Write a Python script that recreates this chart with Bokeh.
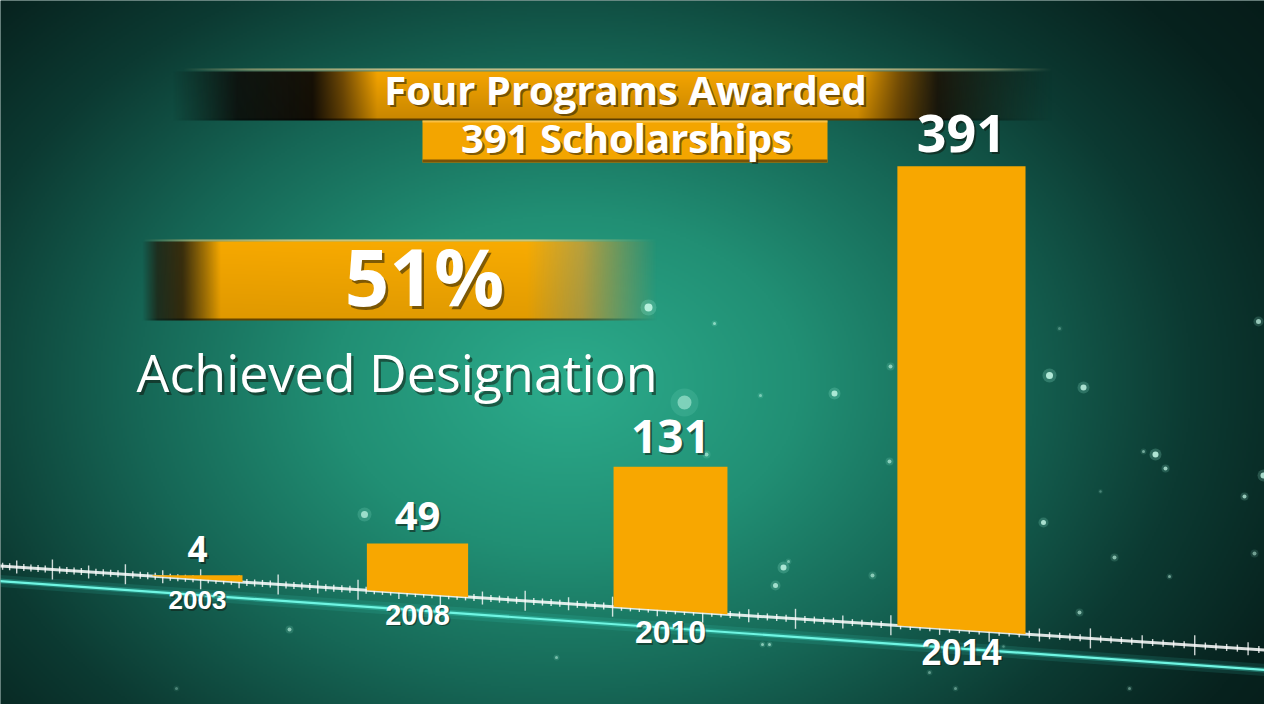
import numpy as np
from bokeh.plotting import figure
from bokeh.models import Range1d, ColumnDataSource
from bokeh.core.properties import value, field
from bokeh.embed import file_html
from bokeh.resources import INLINE

# ---------------- data ----------------
years = ["2003", "2008", "2010", "2014"]
scholarships = [4, 49, 131, 391]
headline = "Four Programs Awarded"
subline = "391 Scholarships"
designation_share = "51%"
designation_text = "Achieved Designation"

# decorative sparkles (x, y, radius, alpha) in picture pixels
sparkles = [
    (656, 315, 4, 0.85), (722, 331, 1.5, 0.6), (692, 410, 7, 0.5), (768, 403, 1.5, 0.5),
    (842, 401, 3, 0.8), (898, 374, 2, 0.6), (897, 469, 2, 0.6), (714, 462, 2, 0.6),
    (372, 522, 3.5, 0.7), (1266, 329, 2.5, 0.7), (1057, 383, 3.5, 0.85), (1091, 395, 3, 0.8),
    (1163, 462, 3, 0.85), (1151, 459, 1.5, 0.5), (1173, 476, 2, 0.7), (1271, 483, 3, 0.8),
    (1252, 504, 2, 0.7), (1051, 530, 2.5, 0.8), (1122, 565, 2, 0.6), (1262, 561, 2, 0.5),
    (1177, 584, 1.5, 0.5), (1067, 336, 1.5, 0.3), (1108, 499, 1.2, 0.3), (791, 575, 3, 0.8),
    (796, 569, 1.5, 0.5), (783, 593, 2.5, 0.75), (880, 583, 2, 0.6), (770, 652, 1.5, 0.6),
    (777, 652, 1.5, 0.6), (297, 637, 2, 0.6), (564, 665, 1.5, 0.5), (184, 696, 1.5, 0.3),
    (937, 680, 1.5, 0.4), (963, 696, 1.5, 0.4), (1137, 696, 1.5, 0.4), (1087, 620, 2, 0.6),
    (1011, 654, 1.2, 0.3),
]

W, H, M = 1264, 704, 8


def Y(ry):
    return 720 - ry


p = figure(width=W, height=H, x_range=Range1d(M, 1280 - M), y_range=Range1d(M, 720 - M),
           output_backend="svg", toolbar_location=None, min_border=0,
           x_axis_location=None, y_axis_location=None)
p.grid.visible = False
p.outline_line_color = None
p.background_fill_color = "#0b3a33"
p.border_fill_color = "#0b3a33"


def pack(rgba):
    ny, nx, _ = rgba.shape
    img = np.empty((ny, nx), dtype=np.uint32)
    v = img.view(dtype=np.uint8).reshape((ny, nx, 4))
    v[:] = np.clip(rgba, 0, 255).astype(np.uint8)
    return np.ascontiguousarray(np.flipud(img))


# ---------------- background radial gradient ----------------
nx, ny = 632, 352
gx = M + (np.arange(nx) + 0.5) * 2
gy = M + (np.arange(ny) + 0.5) * 2
GX, GY = np.meshgrid(gx, gy)
t = np.sqrt(((GX - 575) / 780.0) ** 2 + ((GY - 390) / 560.0) ** 2)
ts = [0.0, 0.3, 0.55, 0.8, 1.0, 1.3]
rs = [44, 33, 22, 12, 7, 4]
gs = [172, 143, 103, 58, 34, 20]
bs = [140, 116, 86, 50, 30, 18]
bg = np.zeros((ny, nx, 4))
bg[..., 0] = np.interp(t, ts, rs)
bg[..., 1] = np.interp(t, ts, gs)
bg[..., 2] = np.interp(t, ts, bs)
bg[..., 3] = 255
p.image_rgba(image=[pack(bg)], x=M, y=M, dw=W, dh=H)


# ---------------- banners ----------------
def banner(x0, x1, y0, y1, stops, hl_stops, hl_col, top_rows=2, shade=(1.04, 0.84), bottom_dark=2):
    w, h = x1 - x0, y1 - y0
    xs = x0 + np.arange(w) + 0.5
    sx = [s[0] for s in stops]
    cols = [np.interp(xs, sx, [s[k] for s in stops]) for k in range(1, 5)]
    arr = np.zeros((h, w, 4))
    fac = np.linspace(shade[0], shade[1], h)[:, None]
    for k in range(3):
        arr[..., k] = cols[k][None, :] * fac
    arr[..., 3] = cols[3][None, :] * 255
    hx = [s[0] for s in hl_stops]
    ha = np.interp(xs, hx, [s[1] for s in hl_stops])
    for r in range(top_rows):
        for k in range(3):
            arr[r, :, k] = hl_col[k]
        arr[r, :, 3] = ha * 255 * (1.0 - 0.3 * r)
    for r in range(1, bottom_dark + 1):
        arr[h - r, :, :3] *= 0.45
    p.image_rgba(image=[pack(arr)], x=x0, y=Y(y1), dw=w, dh=h)


banner(180, 1060, 76, 128,
       [(180, 12, 10, 8, 0.0), (245, 14, 11, 8, 0.85), (320, 22, 16, 6, 1.0), (350, 110, 72, 5, 1.0),
        (385, 238, 160, 0, 1.0), (865, 238, 160, 0, 1.0), (905, 120, 80, 5, 1.0), (945, 28, 20, 8, 0.92),
        (1060, 20, 18, 10, 0.0)],
       [(190, 0.0), (260, 0.55), (400, 0.9), (860, 0.9), (1000, 0.5), (1060, 0.0)],
       (245, 215, 150), top_rows=3)

banner(150, 665, 247, 328,
       [(150, 30, 20, 8, 0.0), (165, 35, 24, 8, 0.7), (190, 60, 40, 6, 0.92), (228, 240, 164, 0, 1.0),
        (535, 242, 167, 2, 1.0), (590, 228, 160, 40, 0.75), (665, 200, 150, 70, 0.0)],
       [(150, 0.0), (200, 0.6), (300, 0.9), (540, 0.9), (665, 0.0)],
       (255, 215, 130), top_rows=2, shade=(1.03, 0.93))

# "391 Scholarships" box
p.quad(left=430, right=835, top=Y(128), bottom=Y(170), fill_color="#f3a500", line_color=None)
p.quad(left=430, right=835, top=Y(167), bottom=Y(170), fill_color="#7a5206", line_color=None)
p.quad(left=430, right=835, top=Y(128), bottom=Y(130), fill_color="#ffd070", line_color=None, fill_alpha=0.6)


# ---------------- perspective axis ----------------
def base_y(x):
    return 573 + 0.0664 * x


def teal_y(x):
    return 588 + 0.0703 * x


lx = np.array([0.0, 1280.0])
p.line(lx, Y(teal_y(lx)), line_color="#40e0cc", line_width=12, line_alpha=0.12)
p.line(lx, Y(teal_y(lx)), line_color="#40e0cc", line_width=5, line_alpha=0.3)
p.line(lx, Y(teal_y(lx)), line_color="#6ff5e2", line_width=2.2)

# ticks
tick_x, tick_h = [], []
for direction in (1, -1):
    x, k = 803.0, 0
    while -10 < x < 1290:
        if not (direction == -1 and k == 0):
            tick_x.append(x)
            tick_h.append(10 if k % 10 == 0 else (6.5 if k % 5 == 0 else 3.5))
        step = (70 + 0.03 * x) / 10.0
        x += direction * step
        k += 1
tick_x = np.array(tick_x)
tick_h = np.array(tick_h)
p.segment(x0=tick_x, y0=Y(base_y(tick_x) - tick_h), x1=tick_x, y1=Y(base_y(tick_x) + tick_h),
          line_color="white", line_width=1.4, line_alpha=0.8)
p.line(lx, Y(base_y(lx)), line_color="white", line_width=3, line_alpha=0.85)

# ---------------- bars ----------------
slots = np.arange(len(years))
centers = 205 + 220 * (1.15 ** slots - 1) / 0.15
widths = 90 * 1.125 ** slots
gains = 0.895 + 0.0003 * centers
vals = np.array(scholarships, dtype=float)
tops = base_y(centers) - vals * gains

bxs, bys = [], []
for c, w, tp in zip(centers, widths, tops):
    xl, xr = c - w / 2, c + w / 2
    bxs.append([xl, xr, xr, xl])
    bys.append([Y(base_y(xl)), Y(base_y(xr)), Y(tp), Y(tp)])
p.patches(bxs, bys, fill_color="#f8a700", line_color=None)

# ---------------- sparkles ----------------
sx = [s[0] for s in sparkles]
sy = [Y(s[1]) for s in sparkles]
sr = [s[2] for s in sparkles]
sa = [s[3] for s in sparkles]
p.scatter(sx, sy, size=[4 * r for r in sr], fill_color="#9ff5dc", fill_alpha=[a * 0.25 for a in sa], line_color=None)
p.scatter(sx, sy, size=[2 * r for r in sr], fill_color="#c8fbea", fill_alpha=sa, line_color=None)


# ---------------- texts ----------------
def shadow_text(xs, ys, texts, font, sizes, style="bold", align="center", off=2.2, alpha=0.5):
    n = len(xs)
    sizes = sizes if isinstance(sizes, (list, tuple, np.ndarray)) else [sizes] * n
    sizes = [float(s) for s in sizes]
    # renderer places the glyph ~0.4em below the requested baseline; compensate
    ys = [float(yy) + 0.4 * s for yy, s in zip(ys, sizes)]
    size_str = ["%.0fpx" % s for s in sizes]
    src = ColumnDataSource(dict(x=list(xs), y=ys, text=list(texts), size=size_str))
    src2 = ColumnDataSource(dict(x=[v + off for v in xs], y=[v - off for v in ys], text=list(texts), size=size_str))
    for s, col, a in ((src2, "#101008", alpha), (src, "white", 1.0)):
        p.text(x="x", y="y", text="text", source=s, text_font=value(font), text_font_style=style,
               text_font_size=field("size"), text_align=align, text_baseline="alphabetic",
               text_color=col, text_alpha=a)


shadow_text([633], [Y(113)], [headline], "Open Sans", 40)
shadow_text([634], [Y(161)], [subline], "Open Sans", 40)
shadow_text([432], [Y(315)], [designation_share], "Open Sans", 78, off=2.5)
shadow_text([144], [Y(400)], [designation_text], "Open Sans", 52, style="normal", align="left", off=2.5)

# value labels above bars
val_sizes = [round(30 + 0.023 * c) for c in centers]
shadow_text(list(centers), list(Y(tops - 12)), [str(v) for v in scholarships], "Open Sans", val_sizes, off=2)

# year labels below axis
yr_sizes = [round(23.5 + 0.0128 * c) for c in centers]
shadow_text(list(centers), list(Y(base_y(centers) + 30 + 0.0065 * centers)), years,
            "Liberation Sans", yr_sizes, off=1.5, alpha=0.45)

open("out.html", "w").write(file_html(p, INLINE))
